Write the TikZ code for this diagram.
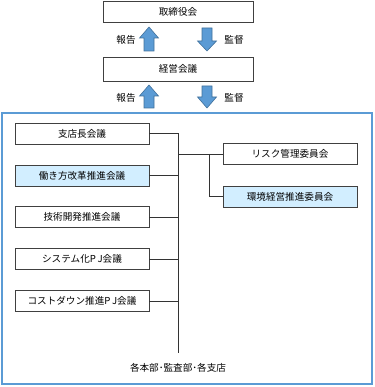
\documentclass[tikz,border=0pt]{standalone}
\usepackage{fontspec}
\setmainfont{Noto Sans CJK JP}
\begin{document}
\begin{tikzpicture}[x=1pt,y=-1pt,
  box/.style={draw=black!75,line width=0.8pt,minimum height=21pt,inner sep=0pt,font=\fontsize{9.6pt}{11pt}\selectfont},
  hl/.style={fill=hlblue},
  lbl/.style={font=\fontsize{9.6pt}{11pt}\selectfont,inner sep=0pt},
  blk/.style={fill=arrblue,draw=arrdark,line width=0.6pt},
  conn/.style={draw=black!80,line width=0.8pt}]
\definecolor{hlblue}{HTML}{D2EEFF}
\definecolor{arrblue}{HTML}{5B9BD5}
\definecolor{arrdark}{HTML}{41719C}
\definecolor{frameblue}{HTML}{5B9BD5}
\useasboundingbox (0,0) rectangle (374,387);
% top boxes
\node[box,minimum width=150pt] (bod) at (178,12) {取締役会};
\node[box,minimum width=150pt,minimum height=24pt] (mgmt) at (178,69) {経営会議};
% arrows (up = report, down = supervise)
\draw[blk] (144,51) -- (144,38) -- (139.5,38) -- (149,27) -- (158.5,38) -- (154,38) -- (154,51) -- cycle;
\draw[blk] (202,28) -- (202,41) -- (197.5,41) -- (207,51) -- (216.5,41) -- (212,41) -- (212,28) -- cycle;
\draw[blk] (144,108) -- (144,96) -- (139.5,96) -- (149,85) -- (158.5,96) -- (154,96) -- (154,108) -- cycle;
\draw[blk] (202,86) -- (202,97) -- (197.5,97) -- (207,108) -- (216.5,97) -- (212,97) -- (212,86) -- cycle;
\node[lbl] (rep1) at (126,40) {報告};
\node[lbl] (sup1) at (234,40) {監督};
\node[lbl] (rep2) at (126,98) {報告};
\node[lbl] (sup2) at (234,98) {監督};
% outer frame
\draw[frameblue,line width=1.2pt] (2,113) rectangle (372,384);
% left boxes
\node[box,minimum width=134pt] (b1) at (82,133.5) {支店長会議};
\node[box,hl,minimum width=134pt] (b2) at (82,175.5) {働き方改革推進会議};
\node[box,minimum width=134pt] (b3) at (82,217) {技術開発推進会議};
\node[box,minimum width=134pt] (b4) at (82,259) {システム化P\,J会議};
\node[box,minimum width=134pt] (b5) at (82,301) {コストダウン推進P\,J会議};
% right boxes
\node[box,minimum width=134pt] (r1) at (290,154) {リスク管理委員会};
\node[box,hl,minimum width=134pt] (r2) at (290,196.5) {環境経営推進委員会};
% trunk
\coordinate (ttop) at (178,133.5);
\coordinate (tbot) at (178,353);
\coordinate (rbr) at (209,154);
\node[lbl] (base) at (178,368) {各本部･監査部･各支店};
\draw[conn] (ttop) -- (tbot);
\foreach \b in {b1,b2,b3,b4,b5} \draw[conn] (\b.east) -- (\b.east -| ttop);
\draw[conn] (r1.west -| ttop) -- (r1.west);
\draw[conn] (rbr) |- (r2.west);
\end{tikzpicture}
\end{document}
